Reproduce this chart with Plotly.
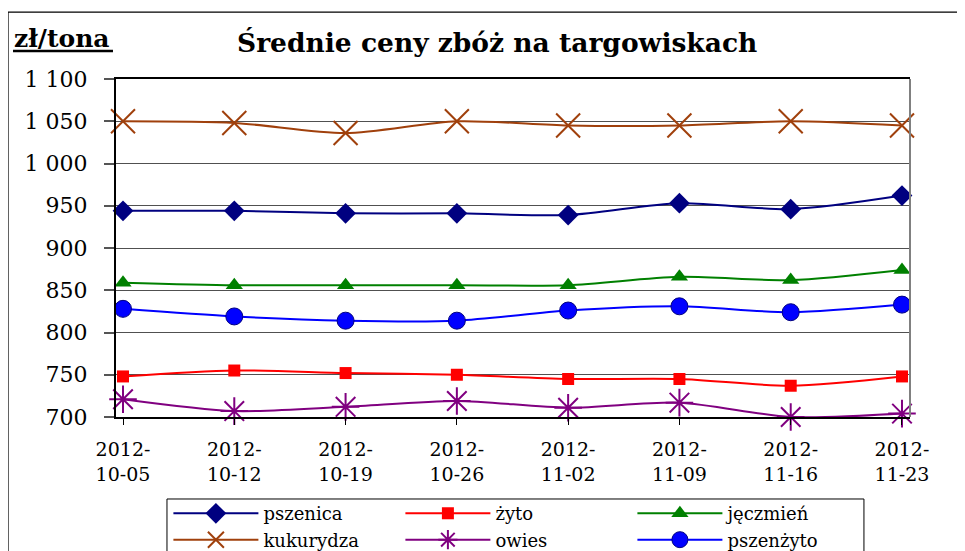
import plotly.graph_objects as go

dates = ["2012-10-05", "2012-10-12", "2012-10-19", "2012-10-26",
         "2012-11-02", "2012-11-09", "2012-11-16", "2012-11-23"]
tick_labels = [d[:4] + "-<br>" + d[5:] for d in dates]

pszenica = [944, 944, 941, 941, 939, 953, 946, 962]
zyto = [748, 755, 752, 750, 745, 745, 737, 748]
jeczmien = [859, 856, 856, 856, 856, 866, 862, 874]
kukurydza = [1050, 1048, 1036, 1050, 1045, 1045, 1050, 1045]
owies = [721, 707, 712, 719, 711, 717, 700, 704]
pszenzyto = [828, 819, 814, 814, 826, 831, 824, 833]

FONT = "DejaVu Serif"

series = [
    ("pszenica", pszenica, "#000080", dict(symbol="diamond", size=16, color="#000080")),
    ("żyto", zyto, "#FF0000", dict(symbol="square", size=12, color="#FF0000")),
    ("jęczmień", jeczmien, "#008000", dict(symbol="triangle-up", size=15, color="#008000")),
    ("kukurydza", kukurydza, "#A0400C", dict(symbol="x-thin-open", size=24, color="#A0400C",
                                            line=dict(width=2, color="#A0400C"))),
    ("owies", owies, "#800080", dict(symbol="asterisk-open", size=23, color="#800080",
                                     line=dict(width=2, color="#800080"))),
    ("pszenżyto", pszenzyto, "#0000FF", dict(symbol="circle", size=17, color="#0000FF",
                                             line=dict(width=1, color="#000080"))),
]

fig = go.Figure()
for name, vals, col, mk in series:
    fig.add_trace(go.Scatter(
        x=dates, y=vals, name=name, mode="lines+markers",
        line=dict(color=col, width=2, shape="spline", smoothing=0.8),
        marker=mk, cliponaxis=False,
    ))

# page has an 8px body margin, so the figure is drawn 8px lower/right
fig.update_layout(
    width=957, height=543,
    margin=dict(l=108, r=55, t=71, b=134, autoexpand=False),
    paper_bgcolor="white", plot_bgcolor="white",
    separators=", ",
    showlegend=True,
    legend=dict(
        orientation="h", x=0.066, y=-0.231, xanchor="left", yanchor="top",
        entrywidth=132, entrywidthmode="pixels",
        font=dict(family=FONT, size=18, color="black"),
        borderwidth=0, bgcolor="rgba(0,0,0,0)",
        tracegroupgap=0, itemwidth=85,
    ),
    font=dict(family=FONT, color="black"),
)

fig.update_xaxes(
    type="category", categoryorder="array", categoryarray=dates,
    range=[-0.063, 7.072],
    tickvals=dates, ticktext=tick_labels,
    tickfont=dict(family=FONT, size=19, color="black"),
    ticks="outside", ticklen=6, tickcolor="black", tickwidth=1,
    ticklabelstandoff=8,
    showline=True, linecolor="black", linewidth=2, mirror=True,
    showgrid=False, zeroline=False,
)
fig.update_yaxes(
    range=[700, 1100], dtick=50, tick0=700,
    tickformat=",.0f",
    tickfont=dict(family=FONT, size=22, color="black"),
    ticks="outside", ticklen=10, tickcolor="#555555", tickwidth=1.5,
    ticklabelstandoff=12,
    showline=True, linecolor="black", linewidth=2,
    showgrid=True, gridcolor="#505050", gridwidth=1.2,
    zeroline=False,
)

# right edge of plot area (grey)
fig.add_shape(type="line", xref="paper", yref="paper", x0=1, x1=1, y0=0, y1=1,
              line=dict(color="#808080", width=2))
# outer chart frame
fig.add_shape(type="rect", xref="paper", yref="paper",
              x0=-0.136, x1=1.2, y0=-0.6, y1=1.198,
              line=dict(color="black", width=1.2), fillcolor="rgba(0,0,0,0)", layer="below")
# legend frame
fig.add_shape(type="rect", xref="paper", yref="paper",
              x0=0.0642, x1=0.942, y0=-0.6, y1=-0.2426,
              line=dict(color="black", width=1), fillcolor="rgba(0,0,0,0)", layer="below")

fig.add_annotation(text="<b>Średnie ceny zbóż na targowiskach</b>",
                   xref="paper", yref="paper", x=0.480, y=1.109,
                   xanchor="center", yanchor="middle", showarrow=False,
                   font=dict(family=FONT, size=26.5, color="black"))
fig.add_annotation(text="<b>zł/tona</b>",
                   xref="paper", yref="paper", x=-0.131, y=1.121,
                   xanchor="left", yanchor="middle", showarrow=False,
                   font=dict(family=FONT, size=25, color="black"))
fig.add_shape(type="line", xref="paper", yref="paper",
              x0=-0.1297, x1=-0.0038, y0=1.083, y1=1.083,
              line=dict(color="black", width=2.5))

fig.write_html("out.html")
